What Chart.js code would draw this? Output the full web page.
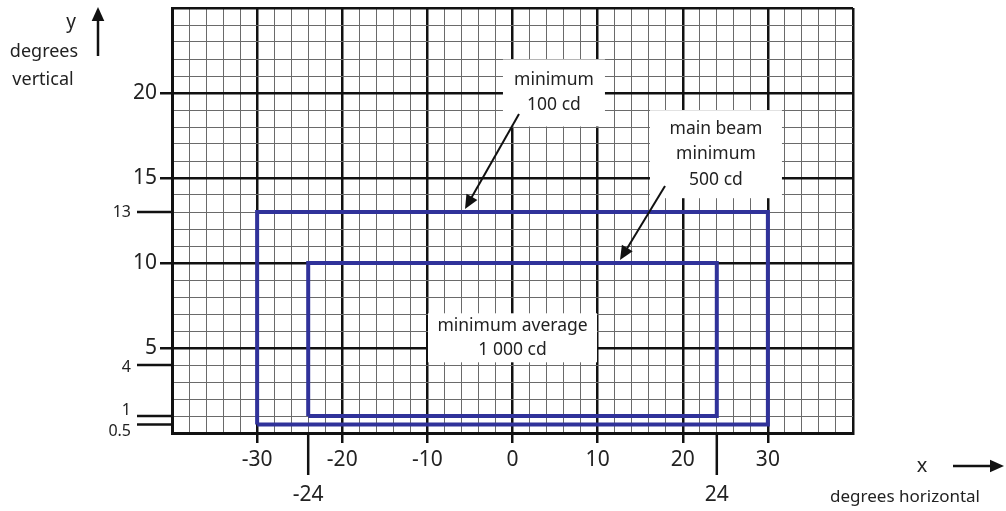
<!DOCTYPE html>
<html>
<head>
<meta charset="utf-8">
<script src="https://cdn.jsdelivr.net/npm/chart.js@4.4.1/dist/chart.umd.min.js"></script>
<style>
  html, body { margin: 0; padding: 0; background: #ffffff; }
  #wrap { width: 1006px; height: 511px; position: relative; }
</style>
</head>
<body>
<div id="wrap"><canvas id="c" width="1006" height="511"></canvas></div>
<script>
// ---- data ----
const xLabelTicks = [-30, -20, -10, 0, 10, 20, 30];
const yLabelTicks = [5, 10, 15, 20];
const specialXTicks = [-24, 24];
const specialYTicks = [13, 4, 1, 0.5];
const outerX = [-30, 30, 30, -30, -30];
const outerY = [0.5, 0.5, 13, 13, 0.5];
const innerX = [-24, 24, 24, -24, -24];
const innerY = [1, 1, 10, 10, 1];
const boxTexts = [
  ['minimum', '100 cd'],
  ['main beam', 'minimum', '500 cd'],
  ['minimum average', '1 000 cd']
];

const FONT = '"Noto Sans", "DejaVu Sans", sans-serif';
const BLUE = '#30329a';
const toPts = (xs, ys) => xs.map((v, i) => ({ x: v, y: ys[i] }));

function arrow(ctx, x1, y1, x2, y2, head, width) {
  const a = Math.atan2(y2 - y1, x2 - x1);
  ctx.save();
  ctx.strokeStyle = '#111'; ctx.fillStyle = '#111';
  ctx.lineWidth = width;
  ctx.beginPath();
  ctx.moveTo(x1, y1);
  ctx.lineTo(x2 - Math.cos(a) * head * 0.8, y2 - Math.sin(a) * head * 0.8);
  ctx.stroke();
  ctx.beginPath();
  ctx.moveTo(x2, y2);
  ctx.lineTo(x2 - head * Math.cos(a) + head * 0.45 * Math.sin(a), y2 - head * Math.sin(a) - head * 0.45 * Math.cos(a));
  ctx.lineTo(x2 - head * Math.cos(a) - head * 0.45 * Math.sin(a), y2 - head * Math.sin(a) + head * 0.45 * Math.cos(a));
  ctx.closePath();
  ctx.fill();
  ctx.restore();
}

const overlay = {
  id: 'overlay',
  afterDraw(chart) {
    const { ctx, chartArea: ca } = chart;
    const xs = chart.scales.x, ys = chart.scales.y;
    ctx.save();
    ctx.strokeStyle = '#111';
    ctx.fillStyle = '#222';
    ctx.lineWidth = 2.5;
    // special y ticks
    const yOff = [0, 2, -6, 7];
    ctx.font = '16px ' + FONT;
    ctx.textAlign = 'right';
    ctx.textBaseline = 'middle';
    specialYTicks.forEach((v, i) => {
      const py = ys.getPixelForValue(v);
      ctx.beginPath(); ctx.moveTo(137, py); ctx.lineTo(ca.left, py); ctx.stroke();
      ctx.fillText(String(v), 131, py + yOff[i]);
    });
    // special x ticks
    ctx.font = '21px ' + FONT;
    ctx.textAlign = 'center';
    specialXTicks.forEach(v => {
      const px = xs.getPixelForValue(v);
      ctx.beginPath(); ctx.moveTo(px, ca.bottom); ctx.lineTo(px, ca.bottom + 42); ctx.stroke();
      ctx.fillText(String(v), px, ca.bottom + 62);
    });

    // annotation boxes (centre in data units, size in px)
    const boxes = [
      { cx: 4.87, cy: 20, w: 102, h: 67, lh: 25 },
      { cx: 23.9, cy: 16.4, w: 132, h: 88, lh: 25.5 },
      { cx: 0, cy: 5.6, w: 169, h: 49, lh: 24 }
    ];
    ctx.font = '17.5px ' + FONT;
    boxes.forEach((b, i) => {
      const px = xs.getPixelForValue(b.cx), py = ys.getPixelForValue(b.cy);
      ctx.fillStyle = '#ffffff';
      ctx.fillRect(px - b.w / 2, py - b.h / 2, b.w, b.h);
      ctx.fillStyle = '#222';
      const lines = boxTexts[i];
      const n = lines.length;
      lines.forEach((t, k) => {
        ctx.fillText(t, px, py + (k - (n - 1) / 2) * b.lh);
      });
    });
    ctx.restore();

    // annotation arrows
    arrow(ctx, 519, 114, 465, 209, 14, 2);
    arrow(ctx, 665, 186, 620, 260, 14, 2);

    // axis titles
    ctx.save();
    ctx.fillStyle = '#222';
    ctx.textAlign = 'center';
    ctx.textBaseline = 'middle';
    ctx.font = '19px ' + FONT;
    ctx.fillText('y', 71, 23);
    ctx.font = '18px ' + FONT;
    ctx.fillText('degrees', 44, 52);
    ctx.fillText('vertical', 43, 80);
    ctx.font = '20px ' + FONT;
    ctx.fillText('x', 922, 466);
    ctx.font = '17px ' + FONT;
    ctx.fillText('degrees horizontal', 905, 497);
    ctx.restore();
    arrow(ctx, 98, 56, 98, 7, 14, 2.5);
    arrow(ctx, 953, 466, 1004, 466, 14, 2.5);
  }
};

new Chart(document.getElementById('c'), {
  type: 'scatter',
  data: {
    datasets: [
      { data: toPts(outerX, outerY), showLine: true, borderColor: BLUE, borderWidth: 4, pointRadius: 0, borderJoinStyle: 'miter', fill: false, tension: 0 },
      { data: toPts(innerX, innerY), showLine: true, borderColor: BLUE, borderWidth: 4, pointRadius: 0, borderJoinStyle: 'miter', fill: false, tension: 0 }
    ]
  },
  options: {
    responsive: false,
    animation: false,
    layout: { padding: { left: 0, top: 8, right: 153, bottom: 0 } },
    plugins: { legend: { display: false }, tooltip: { enabled: false } },
    scales: {
      x: {
        type: 'linear', min: -40, max: 40,
        afterFit(s) { s.height = 78; s.paddingLeft = 0; s.paddingRight = 0; },
        ticks: {
          stepSize: 2, autoSkip: false, maxRotation: 0, padding: 4,
          color: '#222', font: { size: 21, family: FONT },
          callback: v => xLabelTicks.includes(v) ? String(v) : ''
        },
        grid: {
          color: c => (c.tick && c.tick.value % 10 === 0) ? '#111' : '#6a6a6a',
          lineWidth: c => (c.tick && c.tick.value % 10 === 0) ? 2.5 : 1,
          tickColor: c => (c.tick && xLabelTicks.includes(c.tick.value)) ? '#111' : 'rgba(0,0,0,0)',
          tickWidth: 2.5,
          tickLength: 10
        },
        border: { display: true, color: '#111', width: 3 }
      },
      y: {
        type: 'linear', min: 0, max: 25,
        afterFit(s) { s.width = 172; s.paddingTop = 0; s.paddingBottom = 0; },
        ticks: {
          stepSize: 1, autoSkip: false, padding: 3,
          color: '#222', font: { size: 21, family: FONT },
          callback: v => yLabelTicks.includes(v) ? String(v) : ''
        },
        grid: {
          color: c => (c.tick && c.tick.value % 5 === 0) ? '#111' : '#6a6a6a',
          lineWidth: c => (c.tick && c.tick.value % 5 === 0) ? 2.5 : 1,
          tickColor: c => (c.tick && yLabelTicks.includes(c.tick.value)) ? '#111' : 'rgba(0,0,0,0)',
          tickWidth: 2.5,
          tickLength: 12
        },
        border: { display: true, color: '#111', width: 3 }
      }
    }
  },
  plugins: [overlay]
});
</script>
</body>
</html>
